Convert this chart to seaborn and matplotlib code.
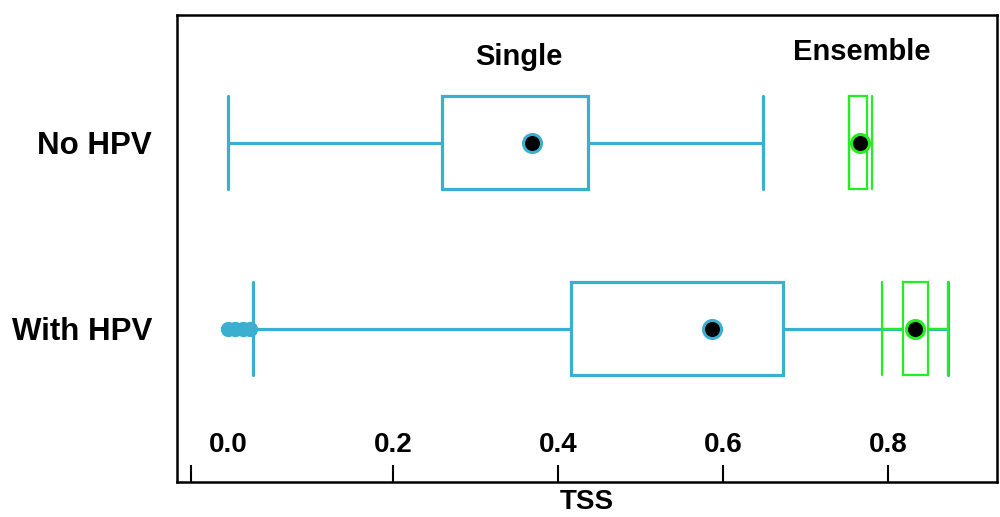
import pandas as pd
import numpy as np
import matplotlib
matplotlib.use("Agg")
import matplotlib.pyplot as plt
import seaborn as sns

# ========== data ==========
groups = ["No HPV", "With HPV"]
# box summaries per group: whisker low, Q1, centre, Q3, whisker high
single_no_hpv = [0.0, 0.259, 0.368, 0.436, 0.648]
single_with_hpv = [0.030, 0.415, 0.587, 0.673, 0.872]
ensemble_no_hpv = [0.752, 0.752, 0.766, 0.775, 0.781]
ensemble_with_hpv = [0.792, 0.818, 0.832, 0.848, 0.872]
single_means = [0.368, 0.587]
ensemble_means = [0.766, 0.832]
single_outliers = [0.0, 0.008, 0.018, 0.026]  # With HPV

tick_vals = [0.0, 0.2, 0.4, 0.6, 0.8]
tick_labels = ["0.0", "0.2", "0.4", "0.6", "0.8"]

blue = "#3AAFCF"
green = "#22EE22"

df_single = pd.DataFrame({
    "group": ["No HPV"] * len(single_no_hpv) + ["With HPV"] * len(single_with_hpv),
    "TSS": single_no_hpv + single_with_hpv,
})
df_ens = pd.DataFrame({
    "group": ["No HPV"] * len(ensemble_no_hpv) + ["With HPV"] * len(ensemble_with_hpv),
    "TSS": ensemble_no_hpv + ensemble_with_hpv,
})

# ========== figure ==========
sns.set_style("white")
plt.rcParams["font.family"] = ["Liberation Sans", "DejaVu Sans"]
plt.rcParams["font.weight"] = "bold"
for k in ["text.color", "axes.labelcolor", "xtick.color", "ytick.color"]:
    plt.rcParams[k] = "black"

fig = plt.figure(figsize=(10, 5.17), dpi=100)
ax = fig.add_axes([0.177, 0.068, 0.82, 0.903])

sns.boxplot(data=df_single, x="TSS", y="group", order=groups, orient="h",
            width=0.5, whis=1.5, showfliers=False, ax=ax, zorder=2,
            boxprops=dict(facecolor="white", edgecolor=blue, linewidth=2.3),
            whiskerprops=dict(color=blue, linewidth=2.3),
            capprops=dict(color=blue, linewidth=2.3),
            medianprops=dict(visible=False),
            capwidths=0.5)
sns.boxplot(data=df_ens, x="TSS", y="group", order=groups, orient="h",
            width=0.5, whis=1.5, showfliers=False, ax=ax, zorder=4,
            boxprops=dict(facecolor="white", edgecolor=green, linewidth=1.6),
            whiskerprops=dict(color=green, linewidth=1.6),
            capprops=dict(color=green, linewidth=1.6),
            medianprops=dict(visible=False),
            capwidths=0.5)

# outliers of the single model
sns.stripplot(x=single_outliers, y=["With HPV"] * len(single_outliers), order=groups,
              orient="h", jitter=False, size=10, color=blue, edgecolor=blue,
              linewidth=1, ax=ax, zorder=3)
# means
sns.stripplot(x=single_means, y=groups, order=groups, orient="h", jitter=False,
              size=13, color="black", edgecolor=blue, linewidth=2.2, ax=ax, zorder=6)
sns.stripplot(x=ensemble_means, y=groups, order=groups, orient="h", jitter=False,
              size=13, color="black", edgecolor=green, linewidth=2.2, ax=ax, zorder=6)

ax.set_xlim(-0.062, 0.932)
ax.set_ylim(1.823, -0.688)

# tick marks (0.0 mark sits left of the 0.0 label in the original)
ax.set_xticks([-0.045, 0.2, 0.4, 0.6, 0.8])
ax.set_xticklabels([""] + tick_labels[1:])
ax.set_xticks([tick_vals[0]], minor=True)
ax.set_xticklabels([tick_labels[0]], minor=True)
ax.tick_params(axis="x", which="major", bottom=True, direction="in", length=12,
               width=1.5, color="black", pad=-36, labelsize=20)
ax.tick_params(axis="x", which="minor", bottom=True, length=0, pad=-36, labelsize=20)
ax.tick_params(axis="y", left=False, length=0, pad=18, labelsize=22.5)
for lab in ax.get_xticklabels(which="both") + ax.get_yticklabels():
    lab.set_fontweight("bold")

ax.set_xlabel("TSS", fontsize=20, fontweight="bold", labelpad=5)
ax.set_ylabel("")

for sp in ax.spines.values():
    sp.set_visible(True)
    sp.set_color("black")
    sp.set_linewidth(1.8)

ax.text(0.353, -0.462, "Single", ha="center", va="center", fontsize=21, fontweight="bold")
ax.text(0.768, -0.489, "Ensemble", ha="center", va="center", fontsize=21, fontweight="bold")

fig.savefig("out.png", dpi=100)
